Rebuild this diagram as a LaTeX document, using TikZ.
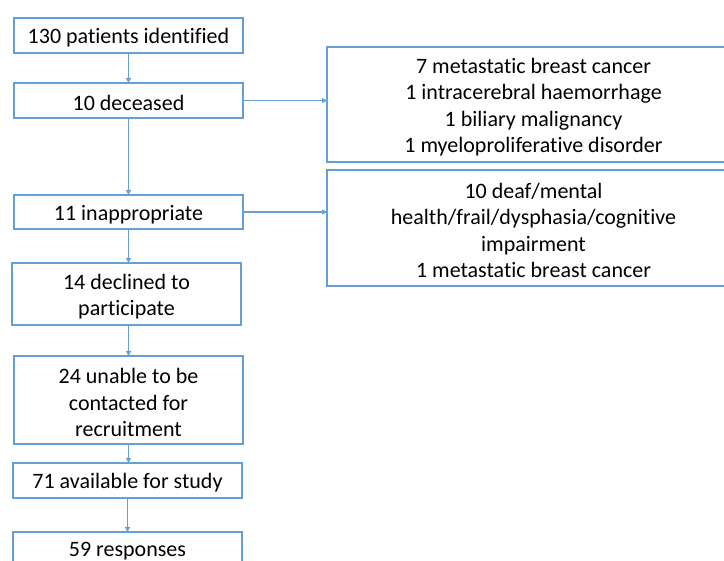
\documentclass[tikz,border=0pt]{standalone}
\usepackage{fontspec}
\setmainfont[Ligatures=NoCommon]{Carlito}
\usetikzlibrary{arrows.meta}
\definecolor{lineblue}{RGB}{100,160,215}
\begin{document}
\begin{tikzpicture}[x=1pt,y=-1pt,
  box/.style={draw=lineblue,line width=1.1pt,rectangle,inner sep=0pt,outer sep=0pt,
    minimum width=229pt},
  wbox/.style={box,minimum width=413pt},
  txt/.style={align=center,inner sep=0pt,font=\fontsize{22}{26.3}\selectfont,text=black,yshift=-2.5pt},
  arr/.style={draw=lineblue,line width=1.1pt,-{Triangle[length=5pt,width=5pt]}}]
\useasboundingbox (0,0) rectangle (724,561);
\node[box,minimum height=35pt] (b1) at (128.5,35.5) {};
\node[box,minimum height=35pt] (b2) at (128.5,100.5) {};
\node[box,minimum height=34pt] (b3) at (128.5,212) {};
\node[box,minimum height=62pt] (b4) at (126.5,294) {};
\node[box,minimum height=88pt] (b5) at (128.5,400) {};
\node[box,minimum height=35pt] (b6) at (127.5,480.5) {};
\node[box,minimum height=48pt] (b7) at (127.5,556) {};
\node[wbox,minimum height=115pt] (A) at (533.5,104.5) {};
\node[wbox,minimum height=116pt] (B) at (533.5,228) {};
\node[txt] (t1) at (b1.center) {130 patients identified};
\node[txt] (t2) at (b2.center) {10 deceased};
\node[txt] (t3) at (b3.center) {11 inappropriate};
\node[txt] (t4) at (b4.center) {14 declined to\\participate};
\node[txt] (t5) at (b5.center) {24 unable to be\\contacted for\\recruitment};
\node[txt] (t6) at (b6.center) {71 available for study};
\node[txt,anchor=base,yshift=2.5pt] (t7) at (127.5,557) {59 responses};
\node[txt] (tA) at (A.center) {7 metastatic breast cancer\\1 intracerebral haemorrhage\\1 biliary malignancy\\1 myeloproliferative disorder};
\node[txt] (tB) at (B.center) {10 deaf/mental\\health/frail/dysphasia/cognitive\\impairment\\1 metastatic breast cancer};
\draw[arr] (b1.south) -- (b2.north);
\draw[arr] (b2.south) -- (b3.north);
\draw[arr] (b3.south) -- (b3.south |- b4.north);
\draw[arr] (b4.south -| b3.south) -- (b5.north);
\draw[arr] (b5.south) -- (b5.south |- b6.north);
\draw[arr] (b6.south) -- (b6.south |- b7.north);
\draw[arr] (b2.east) -- (b2.east -| A.west);
\draw[arr] (b3.east) -- (b3.east -| B.west);
\end{tikzpicture}
\end{document}
